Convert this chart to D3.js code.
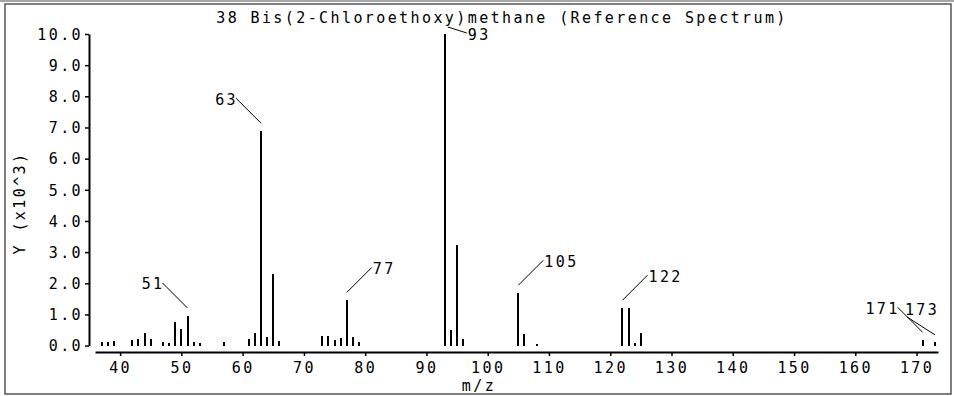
<!DOCTYPE html>
<html>
<head>
<meta charset="utf-8">
<script src="https://cdn.jsdelivr.net/npm/d3@7"></script>
<style>
  html, body { margin: 0; padding: 0; background: #fff; }
  svg text { font-family: "DejaVu Sans Mono", monospace; font-size: 15px; letter-spacing: 2.4px; fill: #000; }
</style>
</head>
<body>
<div id="chart"></div>
<script>
// peaks (m/z, intensity in thousands)
const mz = [37, 38, 39, 42, 43, 44, 45, 47, 48, 49, 50, 51, 52, 53, 57,
  61, 62, 63, 64, 65, 66, 73, 74, 75, 76, 77, 78, 79, 93, 94, 95, 96,
  105, 106, 108, 122, 123, 124, 125, 171, 173];
const intensity = [0.11, 0.11, 0.14, 0.17, 0.2, 0.4, 0.21, 0.1, 0.075, 0.76, 0.53, 0.95, 0.13, 0.075, 0.1,
  0.22, 0.4, 6.88, 0.29, 2.3, 0.15, 0.31, 0.31, 0.18, 0.25, 1.45, 0.27, 0.12, 10.0, 0.5, 3.23, 0.2,
  1.68, 0.37, 0.06, 1.2, 1.2, 0.08, 0.4, 0.17, 0.12];
const labelledPeaks = [51, 63, 77, 93, 105, 122, 171, 173];
const xTicks = [40, 50, 60, 70, 80, 90, 100, 110, 120, 130, 140, 150, 160, 170];
const yTicks = [0, 1, 2, 3, 4, 5, 6, 7, 8, 9, 10];
const title = '38 Bis(2-Chloroethoxy)methane (Reference Spectrum)';

const width = 954;
const height = 396;

const svg = d3.select('#chart')
  .append('svg')
  .attr('width', width)
  .attr('height', height);

// outer frame
svg.append('rect')
  .attr('x', 5).attr('y', 4)
  .attr('width', 946).attr('height', 390)
  .attr('fill', 'none')
  .attr('stroke', '#555')
  .attr('stroke-width', 1.5);
svg.append('line')
  .attr('x1', 0).attr('x2', width)
  .attr('y1', 1).attr('y2', 1)
  .attr('stroke', '#888')
  .attr('stroke-width', 1.5);

const xScale = d3.scaleLinear().domain([35.9, 173.5]).range([95, 938]);
const yScale = d3.scaleLinear().domain([0, 10]).range([345.6, 34]);

// title
svg.append('text')
  .attr('x', 502)
  .attr('y', 18)
  .attr('text-anchor', 'middle')
  .attr('dominant-baseline', 'middle')
  .text(title);

// axes
const xAxis = svg.append('g')
  .attr('transform', 'translate(0,352)')
  .call(d3.axisBottom(xScale).tickValues(xTicks).tickSize(4).tickSizeOuter(0).tickPadding(6));

const yAxis = svg.append('g')
  .attr('transform', 'translate(89,0)')
  .call(d3.axisLeft(yScale).tickValues(yTicks).tickSize(4).tickSizeOuter(0).tickPadding(2)
    .tickFormat(d3.format('.1f')));

[xAxis, yAxis].forEach((g) => {
  g.attr('font-family', null).attr('font-size', null);
  g.select('.domain').attr('stroke', '#000').attr('stroke-width', 2);
  g.selectAll('.tick line').attr('stroke', '#000').attr('stroke-width', 1.5);
});
yAxis.selectAll('.tick text').attr('dy', '0.35em');

// axis titles
svg.append('text')
  .attr('x', 479)
  .attr('y', 386)
  .attr('text-anchor', 'middle')
  .attr('dominant-baseline', 'middle')
  .text('m/z');

svg.append('text')
  .attr('transform', 'translate(20,203) rotate(-90)')
  .attr('text-anchor', 'middle')
  .attr('dominant-baseline', 'middle')
  .text('Y (x10^3)');

// sticks
const peaks = mz.map((m, i) => ({ mz: m, y: intensity[i] }));

svg.append('g')
  .selectAll('line')
  .data(peaks)
  .enter()
  .append('line')
  .attr('x1', (d) => xScale(d.mz))
  .attr('x2', (d) => xScale(d.mz))
  .attr('y1', yScale(0))
  .attr('y2', (d) => yScale(d.y))
  .attr('stroke', '#000')
  .attr('stroke-width', 2)
  .attr('shape-rendering', 'crispEdges');

// peak labels with leader lines
const leaderSide = { 51: 'left', 63: 'left', 77: 'right', 93: 'top', 105: 'right', 122: 'right', 171: 'left', 173: 'stack' };

labelledPeaks.forEach((m) => {
  const p = peaks.find((d) => d.mz === m);
  const x = xScale(m);
  const top = yScale(p.y);
  let line, text;
  const side = leaderSide[m];
  if (side === 'left') {
    line = [x, top - 8, x - 25, top - 33];
    text = { x: x - 23, y: top - 31, anchor: 'end' };
  } else if (side === 'right') {
    line = [x, top - 8, x + 25, top - 33];
    text = { x: x + 26, y: top - 31, anchor: 'start' };
  } else if (side === 'top') {
    line = [x + 3, top - 7, x + 22, top - 1];
    text = { x: x + 23, y: top + 1, anchor: 'start' };
  } else {
    line = [x, top - 7, x - 28, top - 25];
    text = { x: x - 30, y: top - 31, anchor: 'start' };
  }
  svg.append('line')
    .attr('x1', line[0]).attr('y1', line[1])
    .attr('x2', line[2]).attr('y2', line[3])
    .attr('stroke', '#000')
    .attr('stroke-width', 1);
  svg.append('text')
    .attr('x', text.x)
    .attr('y', text.y)
    .attr('text-anchor', text.anchor)
    .attr('dominant-baseline', 'middle')
    .text(m);
});
</script>
</body>
</html>
